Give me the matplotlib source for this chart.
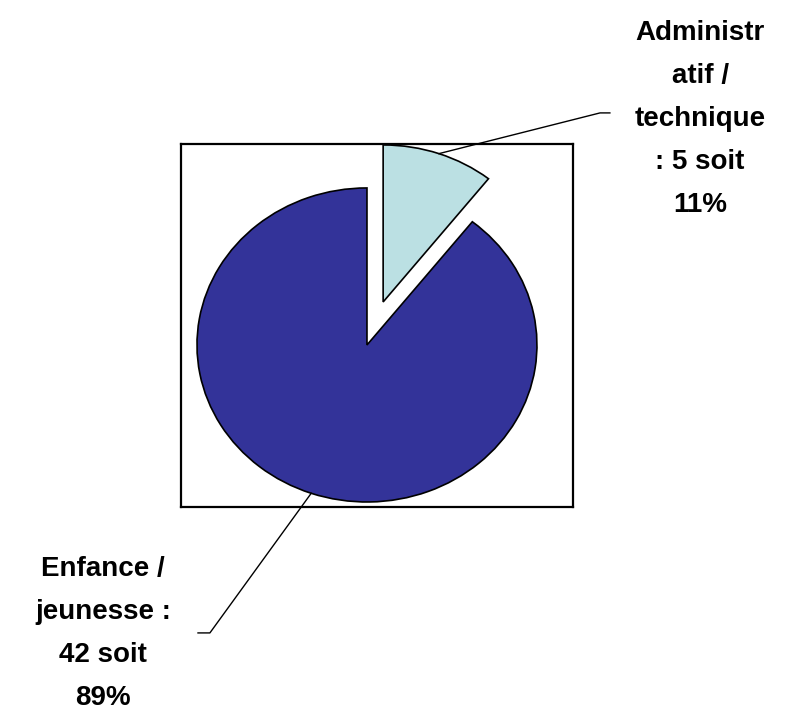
import numpy as np
import matplotlib
matplotlib.use("Agg")
import matplotlib.pyplot as plt

# donnees du graphique
categories = ["Administratif / technique", "Enfance / jeunesse"]
effectifs = [5, 42]
etiquettes = ["Administr\natif /\ntechnique\n: 5 soit\n11%",
              "Enfance /\njeunesse :\n42 soit\n89%"]
couleurs = ["#BBE0E3", "#333399"]
eclate = [0.29, 0]

fig = plt.figure(figsize=(7.91, 7.12), dpi=100)
ax = fig.add_axes([181 / 791, 1 - 507 / 712, 392 / 791, 363 / 712])

wedges, _ = ax.pie(effectifs, colors=couleurs, explode=eclate, startangle=90,
                   counterclock=False, radius=1,
                   wedgeprops=dict(edgecolor="black", linewidth=1.2))
ax.set_aspect("auto")
ax.set_xlim(-1.094, 1.212)
ax.set_ylim(-1.032, 1.280)
ax.set_frame_on(True)
ax.set_xticks([])
ax.set_yticks([])
for s in ax.spines.values():
    s.set_visible(True)
    s.set_linewidth(1.6)
    s.set_color("black")

# positions des etiquettes et des lignes de rappel
pos_texte = [(1.96, 1.44), (-1.553, -1.84)]
coude = [(1.371, 1.478), (-0.924, -1.834)]
bout = [1.429, -0.994]

for w, txt, (tx, ty), (cx, cy), bx in zip(wedges, etiquettes, pos_texte, coude, bout):
    ang = np.deg2rad((w.theta1 + w.theta2) / 2)
    ox, oy = w.center
    px = ox + w.r * np.cos(ang)
    py = oy + w.r * np.sin(ang)
    ax.plot([px, cx, bx], [py, cy, cy], color="black", lw=1.0, clip_on=False)
    ax.text(tx, ty, txt, ha="center", va="center", fontsize=20,
            fontweight="bold", family="Liberation Sans", linespacing=1.85,
            clip_on=False)

fig.savefig("out.png", dpi=100)
